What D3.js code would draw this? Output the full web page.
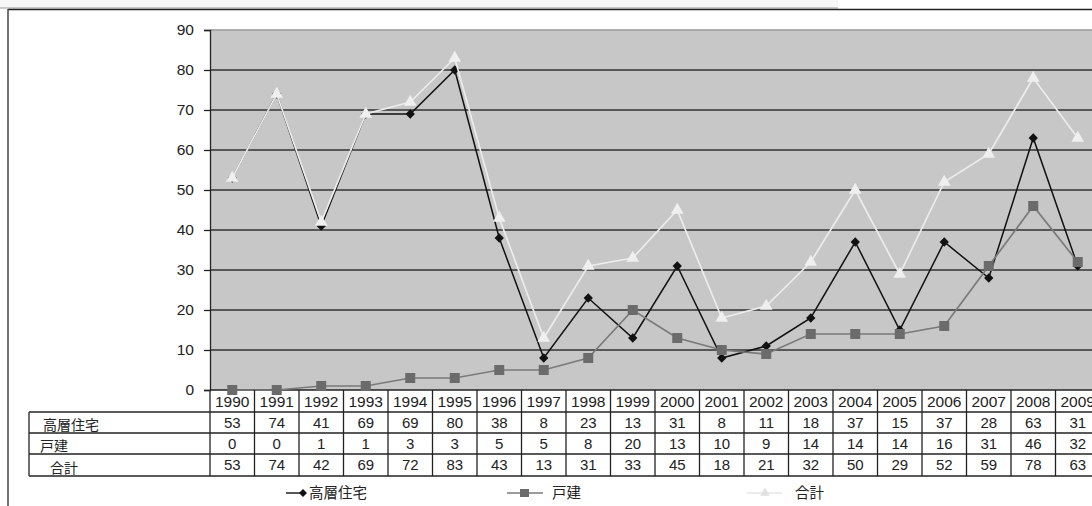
<!DOCTYPE html>
<html>
<head>
<meta charset="utf-8">
<script src="https://cdn.jsdelivr.net/npm/d3@7"></script>
<style>
  html, body { margin: 0; padding: 0; background: #fff; }
  svg { display: block; }
  text { font-family: "Liberation Sans", Arial, sans-serif; fill: #222; }
  .jp { font-family: "Noto Sans CJK JP", "Noto Sans", sans-serif; }
</style>
</head>
<body>
<svg id="chart" width="1092" height="506"></svg>
<script>
// Yearly counts: high-rise housing, detached houses, total
const years = ["1990","1991","1992","1993","1994","1995","1996","1997","1998","1999",
               "2000","2001","2002","2003","2004","2005","2006","2007","2008","2009"];
const highRise = [53, 74, 41, 69, 69, 80, 38, 8, 23, 13, 31, 8, 11, 18, 37, 15, 37, 28, 63, 31];
const detached = [0, 0, 1, 1, 3, 3, 5, 5, 8, 20, 13, 10, 9, 14, 14, 14, 16, 31, 46, 32];
const total    = [53, 74, 42, 69, 72, 83, 43, 13, 31, 33, 45, 18, 21, 32, 50, 29, 52, 59, 78, 63];
const seriesNames = ["高層住宅", "戸建", "合計"];
const yTicks = [0, 10, 20, 30, 40, 50, 60, 70, 80, 90];

const svg = d3.select("#chart");

// frame of the sheet
svg.append("rect").attr("x", 0).attr("y", 0).attr("width", 838).attr("height", 8).attr("fill", "#f7f7f7");
svg.append("line").attr("x1", 0).attr("x2", 838).attr("y1", 8).attr("y2", 8).attr("stroke", "#999").attr("stroke-width", 1);
svg.append("line").attr("x1", 8).attr("x2", 1092).attr("y1", 9.5).attr("y2", 9.5).attr("stroke", "#222").attr("stroke-width", 1.5);
svg.append("line").attr("x1", 8).attr("x2", 8).attr("y1", 9).attr("y2", 506).attr("stroke", "#444").attr("stroke-width", 1.5);

const plotLeft = 210, plotTop = 30, plotBottom = 390;
const colW = 44.5;
const plotRight = plotLeft + colW * years.length;

const x = d3.scaleBand().domain(years).range([plotLeft, plotRight]);
const y = d3.scaleLinear().domain([0, 90]).range([plotBottom, plotTop]);
const cx = d => x(d) + x.bandwidth() / 2;

// plot background
svg.append("rect")
  .attr("x", plotLeft).attr("y", plotTop)
  .attr("width", plotRight - plotLeft).attr("height", plotBottom - plotTop)
  .attr("fill", "#c7c7c7");
svg.append("line").attr("x1", plotLeft).attr("x2", plotRight)
  .attr("y1", plotTop).attr("y2", plotTop).attr("stroke", "#999").attr("stroke-width", 1.5);

// gridlines
svg.append("g").selectAll("line")
  .data(yTicks.filter(t => t > 0 && t < 90))
  .join("line")
  .attr("x1", plotLeft).attr("x2", plotRight)
  .attr("y1", d => y(d)).attr("y2", d => y(d))
  .attr("stroke", "#333").attr("stroke-width", 1.4);

// y axis
const yAxis = d3.axisLeft(y).tickValues(yTicks).tickSize(6).tickPadding(10);
const yg = svg.append("g").attr("transform", `translate(${plotLeft},0)`).call(yAxis);
yg.select(".domain").attr("stroke", "#222").attr("stroke-width", 1.3);
yg.selectAll(".tick line").attr("stroke", "#222").attr("stroke-width", 1.3);
yg.selectAll(".tick text").attr("font-size", 15.5).attr("fill", "#222")
  .attr("font-family", "Liberation Sans, Arial, sans-serif");

// x axis baseline
svg.append("line").attr("x1", plotLeft).attr("x2", plotRight)
  .attr("y1", plotBottom).attr("y2", plotBottom).attr("stroke", "#222").attr("stroke-width", 1.3);

// lines and markers
const lineGen = d3.line().x((d, i) => cx(years[i])).y(d => y(d));

function drawSeries(values, color, width) {
  svg.append("path").datum(values)
    .attr("d", lineGen).attr("fill", "none")
    .attr("stroke", color).attr("stroke-width", width);
}

drawSeries(highRise, "#111", 1.5);
svg.append("g").selectAll("path").data(highRise).join("path")
  .attr("d", d3.symbol(d3.symbolDiamond2, 55))
  .attr("transform", (d, i) => `translate(${cx(years[i])},${y(d)})`)
  .attr("fill", "#111");

drawSeries(detached, "#7a7a7a", 1.7);
svg.append("g").selectAll("rect").data(detached).join("rect")
  .attr("x", (d, i) => cx(years[i]) - 5).attr("y", d => y(d) - 5)
  .attr("width", 10).attr("height", 10).attr("fill", "#6b6b6b");

drawSeries(total, "#ececec", 1.7);
svg.append("g").selectAll("path").data(total).join("path")
  .attr("d", d3.symbol(d3.symbolTriangle, 70))
  .attr("transform", (d, i) => `translate(${cx(years[i])},${y(d)})`)
  .attr("fill", "#efefef");

// data table
const tableLeft = 29;
const rowEdges = [390, 412, 433, 454, 476];
const tg = svg.append("g");

// header row with the years
tg.selectAll("text.year").data(years).join("text")
  .attr("class", "year")
  .attr("x", d => cx(d)).attr("y", 407)
  .attr("text-anchor", "middle").attr("font-size", 15.5)
  .text(d => d);

// horizontal rules
tg.selectAll("line.h").data(rowEdges.slice(1)).join("line")
  .attr("class", "h")
  .attr("x1", tableLeft).attr("x2", plotRight)
  .attr("y1", d => d).attr("y2", d => d)
  .attr("stroke", "#222").attr("stroke-width", 1.3);

// vertical rules between columns
tg.selectAll("line.v").data(years.map(yr => x(yr)).concat([plotRight])).join("line")
  .attr("class", "v")
  .attr("x1", d => d).attr("x2", d => d)
  .attr("y1", 390).attr("y2", 476)
  .attr("stroke", "#222").attr("stroke-width", 1.3);
tg.append("line").attr("x1", tableLeft).attr("x2", tableLeft)
  .attr("y1", 412).attr("y2", 476).attr("stroke", "#222").attr("stroke-width", 1.3);

// row labels and values
const rows = [highRise, detached, total];
const labelX = [43, 40, 50];
rows.forEach((vals, r) => {
  const top = rowEdges[r + 1], bottom = rowEdges[r + 2];
  tg.append("text").attr("class", "jp")
    .attr("x", labelX[r]).attr("y", bottom - 3)
    .attr("font-size", 14).text(seriesNames[r]);
  tg.selectAll(null).data(vals).join("text")
    .attr("x", (d, i) => cx(years[i])).attr("y", top + 15.5)
    .attr("text-anchor", "middle").attr("font-size", 15)
    .text(d => d);
});

// legend
const legendY = 493;
const lg = svg.append("g");
// high-rise
lg.append("line").attr("x1", 286).attr("x2", 306).attr("y1", legendY).attr("y2", legendY)
  .attr("stroke", "#111").attr("stroke-width", 1.4);
lg.append("path").attr("d", d3.symbol(d3.symbolDiamond2, 40))
  .attr("transform", `translate(303,${legendY})`).attr("fill", "#111");
lg.append("text").attr("class", "jp").attr("x", 309).attr("y", legendY + 5)
  .attr("font-size", 14.5).text(seriesNames[0]);
// detached
lg.append("line").attr("x1", 507).attr("x2", 543).attr("y1", legendY).attr("y2", legendY)
  .attr("stroke", "#7a7a7a").attr("stroke-width", 1.6);
lg.append("rect").attr("x", 520).attr("y", legendY - 4).attr("width", 9).attr("height", 8).attr("fill", "#6b6b6b");
lg.append("text").attr("class", "jp").attr("x", 552).attr("y", legendY + 5)
  .attr("font-size", 14.5).text(seriesNames[1]);
// total
lg.append("line").attr("x1", 747).attr("x2", 782).attr("y1", legendY).attr("y2", legendY)
  .attr("stroke", "#e6e6e6").attr("stroke-width", 1.6);
lg.append("path").attr("d", d3.symbol(d3.symbolTriangle, 40))
  .attr("transform", `translate(765,${legendY})`).attr("fill", "#e2e2e2");
lg.append("text").attr("class", "jp").attr("x", 795).attr("y", legendY + 5)
  .attr("font-size", 14.5).text(seriesNames[2]);
</script>
</body>
</html>
